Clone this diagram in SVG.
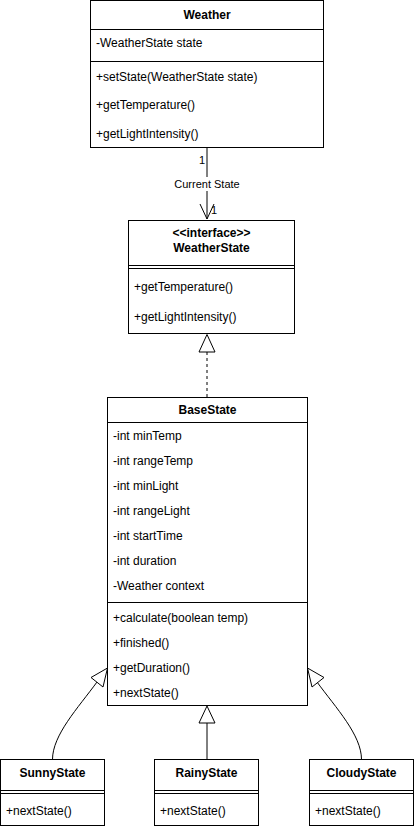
<svg xmlns="http://www.w3.org/2000/svg" width="415" height="829" viewBox="0 0 415 829">
<style>
.box{fill:#fff;stroke:#000;stroke-width:1}
.ln{stroke:#000;stroke-width:1;fill:none}
.t{font-family:"Liberation Sans",Arial,sans-serif;font-size:12px;fill:#000}
.b{font-weight:bold;text-anchor:middle}
.lbl{font-family:"Liberation Sans",Arial,sans-serif;font-size:11px;fill:#000}
.tri{fill:#fff;stroke:#000;stroke-width:1}
</style>
<rect width="415" height="829" fill="#fff"/>
<g id="connectors">
  <line class="ln" x1="207" y1="147.5" x2="207" y2="219"/>
  <polyline class="ln" points="200,204 207,219 214,204"/>
  <rect x="172" y="177" width="70" height="14" fill="#fff"/>
  <text class="lbl" x="207" y="188" text-anchor="middle">Current State</text>
  <text class="lbl" x="205" y="164" text-anchor="end">1</text>
  <text class="lbl" x="211" y="214">1</text>
  <line class="ln" x1="207" y1="352" x2="207" y2="397" stroke-dasharray="3,3"/>
  <polygon class="tri" points="207,334.5 199,352 215,352"/>
  <line class="ln" x1="207" y1="723" x2="207" y2="759.5"/>
  <polygon class="tri" points="207,706 199,723 215,723"/>
  <path class="ln" d="M 52.5 759.5 C 52.5 735 78 708 97 682"/>
  <polygon class="tri" points="107.5,668 91,677.5 103,687"/>
  <path class="ln" d="M 361.5 759.5 C 361.5 735 336 708 317 682"/>
  <polygon class="tri" points="307.5,668 324,677.5 312,687"/>
</g>
<g id="Weather">
  <rect class="box" x="90.5" y="0.5" width="233" height="147"/>
  <line class="ln" x1="90.5" y1="29.5" x2="323.5" y2="29.5"/>
  <line class="ln" x1="90.5" y1="61.5" x2="323.5" y2="61.5"/>
  <text class="t b" x="207" y="19">Weather</text>
  <text class="t" x="96" y="47">-WeatherState state</text>
  <text class="t" x="96" y="81">+setState(WeatherState state)</text>
  <text class="t" x="96" y="109">+getTemperature()</text>
  <text class="t" x="96" y="138">+getLightIntensity()</text>
</g>
<g id="WeatherState">
  <rect class="box" x="128.5" y="220.5" width="166" height="113"/>
  <text class="t b" x="211.5" y="237">&lt;&lt;interface&gt;&gt;</text>
  <text class="t b" x="211.5" y="252">WeatherState</text>
  <line class="ln" x1="128.5" y1="265.5" x2="294.5" y2="265.5"/>
  <line class="ln" x1="128.5" y1="268.5" x2="294.5" y2="268.5"/>
  <text class="t" x="134" y="291">+getTemperature()</text>
  <text class="t" x="134" y="321">+getLightIntensity()</text>
</g>
<g id="BaseState">
  <rect class="box" x="107.5" y="397.5" width="200" height="308"/>
  <text class="t b" x="207.5" y="414">BaseState</text>
  <line class="ln" x1="107.5" y1="422.5" x2="307.5" y2="422.5"/>
  <text class="t" x="113" y="440">-int minTemp</text>
  <text class="t" x="113" y="465">-int rangeTemp</text>
  <text class="t" x="113" y="490">-int minLight</text>
  <text class="t" x="113" y="515">-int rangeLight</text>
  <text class="t" x="113" y="540">-int startTime</text>
  <text class="t" x="113" y="565">-int duration</text>
  <text class="t" x="113" y="590">-Weather context</text>
  <line class="ln" x1="107.5" y1="602.5" x2="307.5" y2="602.5"/>
  <text class="t" x="113" y="622">+calculate(boolean temp)</text>
  <text class="t" x="113" y="647">+finished()</text>
  <text class="t" x="113" y="672">+getDuration()</text>
  <text class="t" x="113" y="697">+nextState()</text>
</g>
<g id="SunnyState">
  <rect class="box" x="0.5" y="759.5" width="104" height="66"/>
  <text class="t b" x="52.5" y="777">SunnyState</text>
  <line class="ln" x1="0.5" y1="790.5" x2="104.5" y2="790.5"/>
  <line class="ln" x1="0.5" y1="793.5" x2="104.5" y2="793.5"/>
  <text class="t" x="6" y="815">+nextState()</text>
</g>
<g id="RainyState">
  <rect class="box" x="154.5" y="759.5" width="104" height="66"/>
  <text class="t b" x="206.5" y="777">RainyState</text>
  <line class="ln" x1="154.5" y1="790.5" x2="258.5" y2="790.5"/>
  <line class="ln" x1="154.5" y1="793.5" x2="258.5" y2="793.5"/>
  <text class="t" x="160" y="815">+nextState()</text>
</g>
<g id="CloudyState">
  <rect class="box" x="309.5" y="759.5" width="104" height="66"/>
  <text class="t b" x="361.5" y="777">CloudyState</text>
  <line class="ln" x1="309.5" y1="790.5" x2="413.5" y2="790.5"/>
  <line class="ln" x1="309.5" y1="793.5" x2="413.5" y2="793.5"/>
  <text class="t" x="315" y="815">+nextState()</text>
</g>
</svg>
